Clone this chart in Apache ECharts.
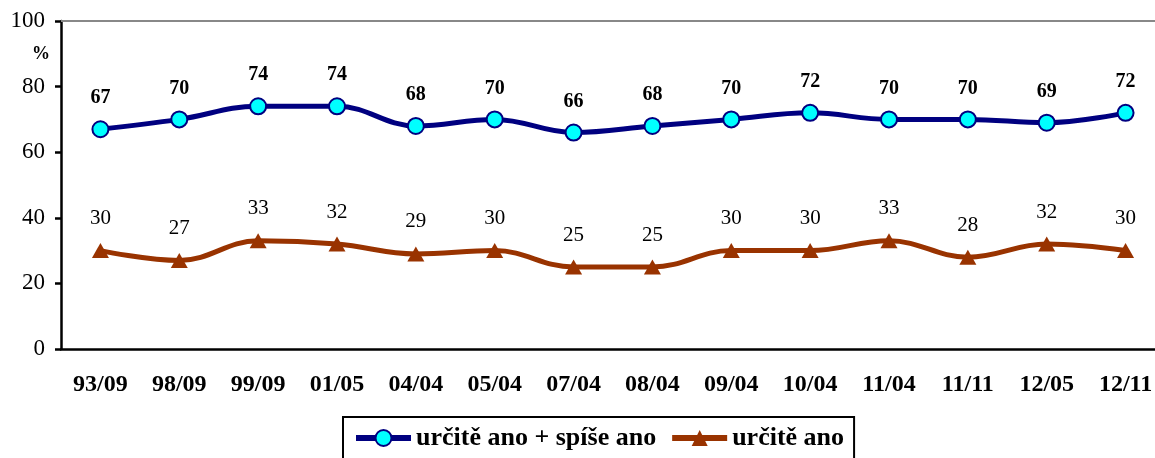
<!DOCTYPE html>
<html><head><meta charset="utf-8">
<script src="https://cdn.jsdelivr.net/npm/echarts@6/dist/echarts.min.js"></script>
<style>html,body{margin:0;padding:0;background:#fff;overflow:hidden;width:1155px;height:458px}#c{width:1165px;height:458px}</style>
</head><body><div id="c"></div>
<script>
const categories = ['93/09','98/09','99/09','01/05','04/04','05/04','07/04','08/04','09/04','10/04','11/04','11/11','12/05','12/11'];
const seriesA = [67,70,74,74,68,70,66,68,70,72,70,70,69,72];
const seriesB = [30,27,33,32,29,30,25,25,30,30,33,28,32,30];
const yTicks = {min:0, max:100, interval:20};
const F = '"Liberation Serif","Times New Roman",serif';
const nameA = 'určitě ano + spíše ano', nameB = 'určitě ano';
const chart = echarts.init(document.getElementById('c'));
chart.setOption({
  animation:false,
  textStyle:{fontFamily:F},
  grid:{left:61, right:0, top:21, bottom:109, containLabel:false},
  legend:{
    data:[
      {name:nameA, lineStyle:{width:6}, itemStyle:{borderWidth:2}},
      {name:nameB, lineStyle:{width:6}}
    ],
    left:343, top:417, orient:'horizontal',
    borderColor:'#000', borderWidth:2, padding:[8,10,30,10],
    itemWidth:55, itemHeight:20, itemGap:13,
    textStyle:{fontFamily:F, fontSize:26, fontWeight:'bold', color:'#000'}
  },
  graphic:[{type:'text', left:32, top:45, style:{text:'%', font:'bold 18px '+F, fill:'#000'}}],
  xAxis:[{
    type:'category', data:categories, boundaryGap:true,
    axisLine:{lineStyle:{color:'#000', width:2.5}},
    axisTick:{length:7, lineStyle:{color:'#000', width:2.5}},
    axisLabel:{margin:24, fontFamily:F, fontSize:24, fontWeight:'bold', color:'#000'}
  },{
    type:'category', data:categories, position:'top',
    axisLine:{lineStyle:{color:'#888', width:2}}, axisTick:{show:false}, axisLabel:{show:false}
  }],
  yAxis:{
    type:'value', min:yTicks.min, max:yTicks.max, interval:yTicks.interval,
    splitLine:{show:false},
    axisLine:{show:true, lineStyle:{color:'#000', width:2.5}},
    axisTick:{show:true, length:6, lineStyle:{color:'#000', width:2.5}},
    axisLabel:{margin:16, fontFamily:F, fontSize:23, color:'#000'}
  },
  series:[{
    name:nameA, type:'line', data:seriesA, smooth:0.4,
    symbol:'circle', symbolSize:16,
    lineStyle:{color:'#000080', width:5},
    itemStyle:{color:'#00ffff', borderColor:'#000080', borderWidth:2},
    label:{show:true, position:'top', distance:12, fontFamily:F, fontSize:20, fontWeight:'bold', color:'#000'}
  },{
    name:nameB, type:'line', data:seriesB, smooth:0.4,
    symbol:'triangle', symbolSize:[17,15],
    lineStyle:{color:'#993300', width:5},
    itemStyle:{color:'#993300'},
    label:{show:true, position:'top', distance:14, fontFamily:F, fontSize:21, color:'#000'}
  }]
});
</script></body></html>
